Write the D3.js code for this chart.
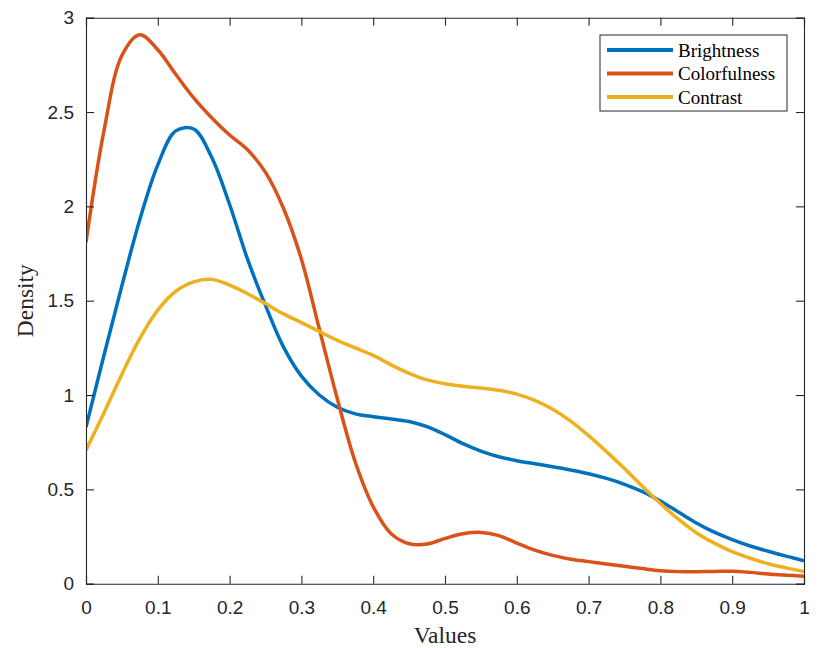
<!DOCTYPE html>
<html>
<head>
<meta charset="utf-8">
<script src="https://cdn.jsdelivr.net/npm/d3@7"></script>
<style>
  html, body { margin: 0; padding: 0; background: #fff; }
  svg { display: block; }
</style>
</head>
<body>
<div id="chart"></div>
<script>
// ---- Data ----
const xValues = [0, 0.025, 0.05, 0.075, 0.1, 0.125, 0.15, 0.175, 0.2, 0.225, 0.25, 0.275, 0.3, 0.325, 0.35, 0.375, 0.4, 0.425, 0.45, 0.475, 0.5, 0.525, 0.55, 0.575, 0.6, 0.625, 0.65, 0.675, 0.7, 0.725, 0.75, 0.775, 0.8, 0.825, 0.85, 0.875, 0.9, 0.925, 0.95, 0.975, 1];
const brightness = [0.83, 1.21, 1.58, 1.93, 2.22, 2.40, 2.41, 2.26, 2.01, 1.72, 1.475, 1.255, 1.10, 1.0, 0.935, 0.90, 0.885, 0.873, 0.86, 0.832, 0.79, 0.742, 0.703, 0.673, 0.652, 0.636, 0.62, 0.603, 0.583, 0.558, 0.527, 0.488, 0.438, 0.38, 0.322, 0.273, 0.234, 0.2, 0.172, 0.146, 0.122];
const colorfulness = [1.81, 2.40, 2.80, 2.91, 2.83, 2.70, 2.575, 2.47, 2.378, 2.30, 2.18, 1.99, 1.72, 1.35, 0.98, 0.645, 0.408, 0.265, 0.212, 0.21, 0.24, 0.265, 0.272, 0.255, 0.215, 0.178, 0.15, 0.13, 0.117, 0.104, 0.092, 0.08, 0.069, 0.064, 0.064, 0.065, 0.066, 0.06, 0.051, 0.045, 0.04];
const contrast = [0.708, 0.905, 1.11, 1.30, 1.45, 1.55, 1.60, 1.613, 1.583, 1.537, 1.485, 1.43, 1.384, 1.337, 1.29, 1.25, 1.21, 1.16, 1.115, 1.08, 1.06, 1.047, 1.037, 1.025, 1.005, 0.972, 0.925, 0.862, 0.785, 0.70, 0.61, 0.515, 0.425, 0.342, 0.27, 0.215, 0.17, 0.135, 0.106, 0.084, 0.065];
const seriesNames = ["Brightness", "Colorfulness", "Contrast"];
const seriesColors = ["#0072BD", "#D95319", "#EDB120"];
const xTicks = [0, 0.1, 0.2, 0.3, 0.4, 0.5, 0.6, 0.7, 0.8, 0.9, 1];
const yTicks = [0, 0.5, 1, 1.5, 2, 2.5, 3];
const xLabel = "Values";
const yLabel = "Density";

// ---- Layout ----
const W = 831, H = 648;
const M = { left: 86, top: 17.7, right: 27, bottom: 64.3 };
const iw = W - M.left - M.right, ih = H - M.top - M.bottom;
const axisColor = "#262626";

const svg = d3.select("#chart").append("svg").attr("width", W).attr("height", H);
const g = svg.append("g").attr("transform", `translate(${M.left},${M.top})`);

const x = d3.scaleLinear().domain([0, 1]).range([0, iw]);
const y = d3.scaleLinear().domain([0, 3]).range([ih, 0]);

svg.append("defs").append("clipPath").attr("id", "clip")
  .append("rect").attr("x", 0).attr("y", 0).attr("width", iw).attr("height", ih);

// ---- Curves ----
const allSeries = [brightness, colorfulness, contrast];
const line = d3.line()
  .x((d, i) => x(xValues[i]))
  .y(d => y(d))
  .curve(d3.curveCatmullRom.alpha(0.5));

g.append("g").attr("clip-path", "url(#clip)")
  .selectAll("path").data(allSeries).join("path")
  .attr("d", d => line(d))
  .attr("fill", "none")
  .attr("stroke", (d, i) => seriesColors[i])
  .attr("stroke-width", 3.5)
  .attr("stroke-linejoin", "round");

// ---- Axes (box with inward ticks) ----
const tickLen = 8;
const font = "'Liberation Sans', Arial, Helvetica, sans-serif";
const serif = "'Liberation Serif', 'Times New Roman', Times, serif";

const xb = g.append("g").attr("transform", `translate(0,${ih})`)
  .call(d3.axisBottom(x).tickValues(xTicks).tickSize(-tickLen).tickPadding(tickLen + 9).tickFormat(d3.format("")));
const xt = g.append("g")
  .call(d3.axisTop(x).tickValues(xTicks).tickSize(-tickLen).tickFormat(""));
const yl = g.append("g")
  .call(d3.axisLeft(y).tickValues(yTicks).tickSize(-tickLen).tickPadding(tickLen + 4).tickFormat(d3.format("")));
const yr = g.append("g").attr("transform", `translate(${iw},0)`)
  .call(d3.axisRight(y).tickValues(yTicks).tickSize(-tickLen).tickFormat(""));

[xb, xt, yl, yr].forEach(a => {
  a.selectAll(".domain").attr("stroke", axisColor).attr("stroke-width", 1.1);
  a.selectAll(".tick line").attr("stroke", axisColor).attr("stroke-width", 1.1);
  a.selectAll("text").attr("fill", axisColor).style("font-family", font).style("font-size", "19px");
});
xb.selectAll("text").attr("dy", "0.71em");

// Axis labels
svg.append("text")
  .attr("x", M.left + x(0.5)).attr("y", 643)
  .attr("text-anchor", "middle")
  .style("font-family", serif).style("font-size", "23.5px").attr("fill", axisColor)
  .text(xLabel);
svg.append("text")
  .attr("transform", `translate(33,${M.top + ih / 2}) rotate(-90)`)
  .attr("text-anchor", "middle")
  .style("font-family", serif).style("font-size", "23.5px").attr("fill", axisColor)
  .text(yLabel);

// ---- Legend ----
const lg = svg.append("g");
lg.append("rect").attr("x", 600).attr("y", 35).attr("width", 187).attr("height", 76)
  .attr("fill", "#fff").attr("stroke", axisColor).attr("stroke-width", 1);
const rowY = [50, 73.5, 97];
seriesNames.forEach((name, i) => {
  lg.append("line").attr("x1", 607).attr("x2", 673).attr("y1", rowY[i]).attr("y2", rowY[i])
    .attr("stroke", seriesColors[i]).attr("stroke-width", 4);
  lg.append("text").attr("x", 678).attr("y", rowY[i] + 6.5)
    .style("font-family", serif).style("font-size", "19px").attr("fill", "#000")
    .text(name);
});
</script>
</body>
</html>
